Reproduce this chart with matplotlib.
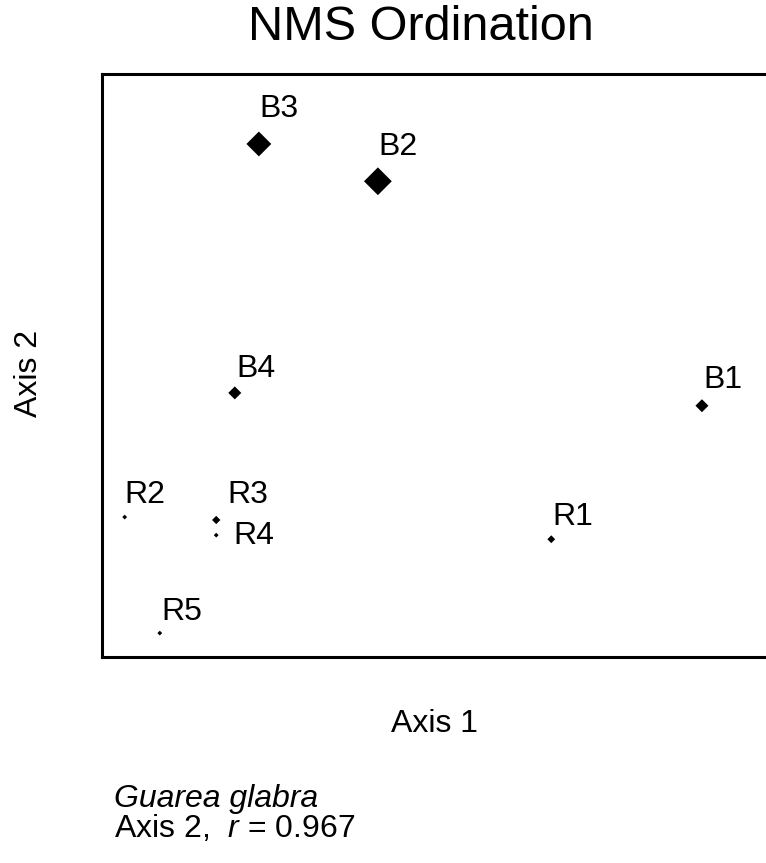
import matplotlib
matplotlib.use("Agg")
import matplotlib.pyplot as plt

plt.rcParams['font.family'] = ['Liberation Sans', 'DejaVu Sans']
plt.rcParams['mathtext.fontset'] = 'custom'
plt.rcParams['mathtext.rm'] = 'Liberation Sans'
plt.rcParams['mathtext.it'] = 'Liberation Sans:italic'

# plot labels and NMS scores (axis 1, axis 2)
plots = ['B1', 'B2', 'B3', 'B4', 'R1', 'R2', 'R3', 'R4', 'R5']
axis1 = [0.872, 0.401, 0.228, 0.193, 0.653, 0.033, 0.166, 0.166, 0.084]
axis2 = [0.431, 0.816, 0.880, 0.453, 0.202, 0.240, 0.235, 0.209, 0.041]
# relative abundance of Guarea glabra (symbol size)
abund = [22, 100, 80, 22, 8, 3, 9, 3, 3]

# label offsets in pixels (dx, dy)
offs = {'B1': (1, 18), 'B2': (0, 26), 'B3': (1, 27), 'B4': (2, 16),
        'R1': (1, 14), 'R2': (0, 14), 'R3': (11, 17), 'R4': (17, -9),
        'R5': (2, 13)}

fig = plt.figure(figsize=(7.66, 8.63), dpi=100)
ax = fig.add_axes([102/766, 1-657/863, (790-102)/766, (657-74)/863])

ax.scatter(axis1, axis2, s=[2.0*a for a in abund], marker='D',
           color='black', linewidths=0, clip_on=False)
for lab, x, y in zip(plots, axis1, axis2):
    dx, dy = offs[lab]
    ax.annotate(lab, (x, y), xytext=(dx, dy), textcoords='offset pixels',
                ha='left', va='baseline', fontsize=23)

ax.set_xlim(0, 1)
ax.set_ylim(0, 1)
ax.set_xticks([])
ax.set_yticks([])
for sp in ax.spines.values():
    sp.set_linewidth(2.2)

fig.text(421/766, 1-28/863, 'NMS Ordination', ha='center', va='center', fontsize=35)
fig.text(434/766, 1-724/863, 'Axis 1', ha='center', va='center', fontsize=23)
fig.text(29/766, 1-373/863, 'Axis 2', ha='center', va='center', fontsize=23,
         rotation=90)
fig.text(114/766, 1-807/863, 'Guarea glabra', ha='left', va='baseline',
         fontsize=23, style='italic')
fig.text(114/766, 1-837/863, 'Axis 2,  $r$ = 0.967', ha='left', va='baseline',
         fontsize=23)

fig.savefig('out.png', dpi=100)
